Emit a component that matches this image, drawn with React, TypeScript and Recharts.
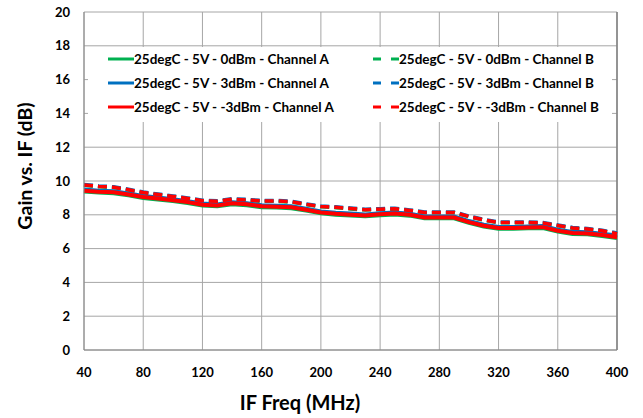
import {
  LineChart,
  Line,
  XAxis,
  YAxis,
  CartesianGrid,
  Legend,
  Label,
  ReferenceLine,
} from 'recharts';

const freqs = [
  40, 50, 60, 70, 80, 90, 100, 110, 120, 130, 140, 150, 160, 170, 180, 190, 200, 210, 220,
  230, 240, 250, 260, 270, 280, 290, 300, 310, 320, 330, 340, 350, 360, 370, 380, 390, 400,
];

const green0dBmA = [
  9.38, 9.32, 9.28, 9.15, 9.0, 8.91, 8.81, 8.7, 8.55, 8.5, 8.63, 8.57, 8.45, 8.43, 8.39, 8.25, 8.09, 8.01, 7.96,
  7.91, 7.98, 8.02, 7.95, 7.79, 7.79, 7.79, 7.52, 7.3, 7.17, 7.17, 7.2, 7.22, 7.01, 6.87, 6.85, 6.75, 6.63,
];
const green0dBmB = [
  9.75, 9.66, 9.61, 9.46, 9.3, 9.18, 9.07, 8.95, 8.81, 8.78, 8.9, 8.86, 8.8, 8.8, 8.75, 8.6, 8.47, 8.42, 8.35,
  8.28, 8.31, 8.34, 8.24, 8.12, 8.12, 8.12, 7.88, 7.68, 7.53, 7.53, 7.53, 7.49, 7.35, 7.2, 7.14, 7.04, 6.86,
];
const blue3dBmA = [
  9.5, 9.43, 9.39, 9.26, 9.11, 9.02, 8.92, 8.81, 8.67, 8.61, 8.74, 8.68, 8.56, 8.54, 8.5, 8.36, 8.2, 8.12, 8.07,
  8.02, 8.09, 8.13, 8.06, 7.9, 7.9, 7.9, 7.63, 7.41, 7.28, 7.28, 7.31, 7.33, 7.12, 6.99, 6.97, 6.88, 6.78,
];
const blue3dBmB = [
  9.8, 9.71, 9.66, 9.51, 9.35, 9.23, 9.12, 9.0, 8.86, 8.83, 8.95, 8.91, 8.85, 8.85, 8.8, 8.65, 8.52, 8.47, 8.4,
  8.33, 8.36, 8.39, 8.29, 8.17, 8.17, 8.17, 7.93, 7.73, 7.58, 7.58, 7.58, 7.54, 7.4, 7.25, 7.19, 7.09, 6.92,
];
const redM3dBmA = [
  9.43, 9.37, 9.33, 9.2, 9.05, 8.96, 8.86, 8.75, 8.6, 8.55, 8.68, 8.62, 8.5, 8.48, 8.44, 8.3, 8.14, 8.06, 8.01,
  7.96, 8.03, 8.07, 8.0, 7.84, 7.84, 7.84, 7.57, 7.35, 7.22, 7.22, 7.25, 7.27, 7.06, 6.92, 6.9, 6.8, 6.67,
];
const redM3dBmB = [
  9.77, 9.68, 9.63, 9.48, 9.32, 9.2, 9.09, 8.97, 8.83, 8.8, 8.92, 8.88, 8.82, 8.82, 8.77, 8.62, 8.49, 8.44, 8.37,
  8.3, 8.33, 8.36, 8.26, 8.14, 8.14, 8.14, 7.9, 7.7, 7.55, 7.55, 7.55, 7.51, 7.37, 7.22, 7.16, 7.06, 6.88,
];

const xTicks = [40, 80, 120, 160, 200, 240, 280, 320, 360, 400];
const yTicks = [0, 2, 4, 6, 8, 10, 12, 14, 16, 18, 20];

const series = [
  { key: 'g0A', name: '25degC - 5V - 0dBm - Channel A', values: green0dBmA, color: '#00b050', dashed: false },
  { key: 'g0B', name: '25degC - 5V - 0dBm - Channel B', values: green0dBmB, color: '#00b050', dashed: true },
  { key: 'b3A', name: '25degC - 5V - 3dBm - Channel A', values: blue3dBmA, color: '#0070c0', dashed: false },
  { key: 'b3B', name: '25degC - 5V - 3dBm - Channel B', values: blue3dBmB, color: '#0070c0', dashed: true },
  { key: 'rm3A', name: '25degC - 5V - -3dBm - Channel A', values: redM3dBmA, color: '#ff0000', dashed: false },
  { key: 'rm3B', name: '25degC - 5V - -3dBm - Channel B', values: redM3dBmB, color: '#ff0000', dashed: true },
];

const data = freqs.map((f, i) => {
  const row: Record<string, number> = { freq: f };
  series.forEach(s => {
    row[s.key] = s.values[i];
  });
  return row;
});

const FONT = 'Lato, "Open Sans", sans-serif';

const LegendBox = () => (
  <div
    style={{
      display: 'grid',
      gridTemplateColumns: '265px 250px',
      rowGap: 6,
      padding: '3px 0 0 20px',
      fontFamily: FONT,
      fontWeight: 700,
      fontSize: 13.5,
      color: '#000',
    }}
  >
    {series.map(s => (
      <div key={s.key} style={{ display: 'flex', alignItems: 'center', height: 18, whiteSpace: 'nowrap' }}>
        <svg width={26} height={6} style={{ display: 'block', flex: 'none' }}>
          <line
            x1={0}
            y1={3}
            x2={26}
            y2={3}
            stroke={s.color}
            strokeWidth={3}
            strokeDasharray={s.dashed ? '8 10' : undefined}
          />
        </svg>
        <span>{s.name}</span>
      </div>
    ))}
  </div>
);

export default function App() {
  return (
    <div style={{ position: 'absolute', left: 0, top: 0, width: 643, height: 418, background: '#fff' }}>
      <LineChart width={643} height={418} data={data} margin={{ top: 12, right: 26, bottom: 38, left: 0 }}>
        <CartesianGrid stroke="#a6a6a6" strokeWidth={1} />
        <XAxis
          dataKey="freq"
          type="number"
          domain={[40, 400]}
          ticks={xTicks}
          height={30}
          tickLine={false}
          tickMargin={12}
          axisLine={{ stroke: '#868686' }}
          tick={{ fontSize: 13, fontWeight: 700, fill: '#000', fontFamily: FONT }}
        >
          <Label
            content={() => (
              <text
                x={300}
                y={410}
                textAnchor="middle"
                style={{ fontSize: 20, fontWeight: 700, fontFamily: FONT, fill: '#000' }}
              >
                IF Freq (MHz)
              </text>
            )}
          />
        </XAxis>
        <YAxis
          type="number"
          domain={[0, 20]}
          ticks={yTicks}
          width={84}
          tickLine={false}
          tickMargin={8}
          axisLine={{ stroke: '#868686' }}
          tick={{ fontSize: 13, fontWeight: 700, fill: '#000', fontFamily: FONT }}
        >
          <Label
            content={() => (
              <text
                x={32}
                y={166}
                textAnchor="middle"
                transform="rotate(-90 32 166)"
                style={{ fontSize: 19.5, fontWeight: 700, fontFamily: FONT, fill: '#000' }}
              >
                Gain vs. IF (dB)
              </text>
            )}
          />
        </YAxis>
        <ReferenceLine x={400} stroke="#7f7f7f" strokeWidth={1.5} />
        <Legend
          layout="vertical"
          align="center"
          verticalAlign="middle"
          content={() => <LegendBox />}
          wrapperStyle={{ left: 88, top: 47, width: 524, height: 75, background: '#fff' }}
        />
        {series.map(s => (
          <Line
            key={s.key}
            dataKey={s.key}
            name={s.name}
            type="linear"
            stroke={s.color}
            strokeWidth={s.dashed ? 3.5 : 4}
            strokeDasharray={s.dashed ? '9 5' : undefined}
            dot={false}
            activeDot={false}
            isAnimationActive={false}
          />
        ))}
      </LineChart>
    </div>
  );
}
